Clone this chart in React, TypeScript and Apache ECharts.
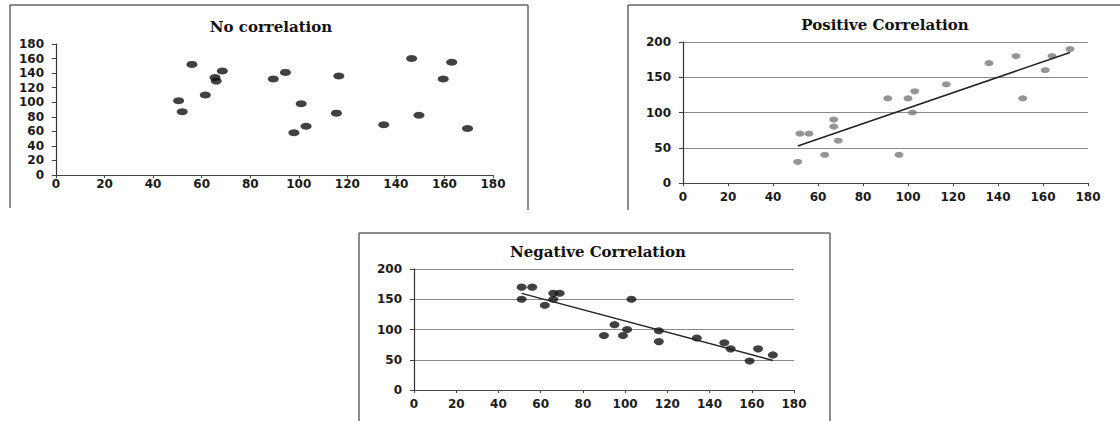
import React, { useEffect, useRef } from "react";
import * as echarts from "echarts";

const titles = ["No correlation", "Positive Correlation", "Negative Correlation"];
const xTicks = [0, 20, 40, 60, 80, 100, 120, 140, 160, 180];

const noCorrX = [50.5, 52, 56, 61.5, 65.5, 66, 68.5, 89.5, 94.5, 101, 98, 103, 116.5, 115.5, 135, 146.5, 149.5, 159.5, 163, 169.5];
const noCorrY = [102, 87, 152, 110, 134, 129, 143, 132, 141, 98, 58, 67, 136, 85, 69, 160, 82, 132, 155, 64];

const posX = [51, 52, 56, 63, 67, 67, 69, 91, 96, 100, 102, 103, 117, 136, 148, 151, 161, 164, 172];
const posY = [30, 70, 70, 40, 90, 80, 60, 120, 40, 120, 100, 130, 140, 170, 180, 120, 160, 180, 190];

const negX = [51, 51, 56, 62, 66, 66, 69, 90, 95, 99, 101, 103, 116, 116, 134, 147, 150, 159, 163, 170];
const negY = [150, 170, 170, 140, 150, 160, 160, 90, 108, 90, 100, 150, 98, 80, 86, 78, 68, 48, 68, 58];

function pairs(xs: number[], ys: number[]) {
  return xs.map((x, i) => [x, ys[i]]);
}

function trend(xs: number[], ys: number[]) {
  const n = xs.length;
  const mx = xs.reduce((a, b) => a + b, 0) / n;
  const my = ys.reduce((a, b) => a + b, 0) / n;
  let sxy = 0;
  let sxx = 0;
  for (let i = 0; i < n; i++) {
    sxy += (xs[i] - mx) * (ys[i] - my);
    sxx += (xs[i] - mx) * (xs[i] - mx);
  }
  const b = sxy / sxx;
  const a = my - b * mx;
  const x0 = Math.min(...xs);
  const x1 = Math.max(...xs);
  return [
    [x0, a + b * x0],
    [x1, a + b * x1],
  ];
}

const labelFont = {
  fontFamily: "DejaVu Sans",
  fontWeight: "bold" as const,
  fontSize: 12,
  color: "#1a1a1a",
};

function xAxis(gridIndex: number, margin: number) {
  return {
    type: "value",
    gridIndex,
    min: 0,
    max: 180,
    interval: 20,
    axisLine: { show: true, onZero: false, lineStyle: { color: "#444", width: 1.2 } },
    axisTick: { show: true, length: 3, lineStyle: { color: "#444" } },
    axisLabel: { ...labelFont, margin },
    splitLine: { show: false },
  };
}

function yAxis(gridIndex: number, max: number, interval: number, grid: boolean) {
  return {
    type: "value",
    gridIndex,
    min: 0,
    max,
    interval,
    axisLine: { show: true, onZero: false, lineStyle: { color: "#333", width: 1.2 } },
    axisTick: { show: true, length: 4, lineStyle: { color: "#444" } },
    axisLabel: { ...labelFont, margin: 12 },
    splitLine: { show: grid, lineStyle: { color: "#8a8a8a", width: 1.2 } },
  };
}

const borderStyle = { stroke: "#666", lineWidth: 1.5 };
function vline(x: number, y1: number, y2: number) {
  return { type: "line", shape: { x1: x, y1, x2: x, y2 }, style: borderStyle, silent: true };
}
function hline(y: number, x1: number, x2: number) {
  return { type: "line", shape: { x1, y1: y, x2, y2: y }, style: borderStyle, silent: true };
}

export default function App() {
  const ref = useRef<HTMLDivElement>(null);

  useEffect(() => {
    if (!ref.current) return;
    const chart = echarts.init(ref.current, null, { renderer: "svg" });
    const titleStyle = {
      fontFamily: "DejaVu Serif",
      fontWeight: "bold" as const,
      fontSize: 15,
      color: "#111",
    };
    chart.setOption({
      animation: false,
      backgroundColor: "#ffffff",
      title: [
        { text: titles[0], left: 266, top: 14, textAlign: "center", textStyle: titleStyle },
        { text: titles[1], left: 880, top: 12, textAlign: "center", textStyle: titleStyle },
        { text: titles[2], left: 593, top: 239, textAlign: "center", textStyle: titleStyle },
      ],
      grid: [
        { left: 56, top: 44, width: 437, height: 131 },
        { left: 683, top: 42, width: 405, height: 141 },
        { left: 414, top: 269, width: 380, height: 121 },
      ],
      xAxis: [xAxis(0, 3), xAxis(1, 8), xAxis(2, 8)].map((a, i) => ({
        ...a,
        axisLabel: {
          ...a.axisLabel,
          formatter: (v: number) => (xTicks.includes(v) ? String(v) : ""),
        },
      })),
      yAxis: [yAxis(0, 180, 20, false), yAxis(1, 200, 50, true), yAxis(2, 200, 50, true)],
      series: [
        {
          type: "scatter",
          xAxisIndex: 0,
          yAxisIndex: 0,
          data: pairs(noCorrX, noCorrY),
          symbol: "circle",
          symbolSize: [11, 7],
          itemStyle: { color: "#111" },
        },
        {
          type: "scatter",
          xAxisIndex: 1,
          yAxisIndex: 1,
          data: pairs(posX, posY),
          symbol: "circle",
          symbolSize: [9, 6],
          itemStyle: { color: "#7a7a7a" },
        },
        {
          type: "line",
          xAxisIndex: 1,
          yAxisIndex: 1,
          data: trend(posX, posY),
          showSymbol: false,
          lineStyle: { color: "#222", width: 1.5 },
        },
        {
          type: "scatter",
          xAxisIndex: 2,
          yAxisIndex: 2,
          data: pairs(negX, negY),
          symbol: "circle",
          symbolSize: [10, 7],
          itemStyle: { color: "#111" },
        },
        {
          type: "line",
          xAxisIndex: 2,
          yAxisIndex: 2,
          data: trend(negX, negY),
          showSymbol: false,
          lineStyle: { color: "#222", width: 1.5 },
        },
      ],
      graphic: [
        hline(5, 10, 528),
        vline(10, 5, 208),
        vline(528, 5, 210),
        hline(5, 628, 1120),
        vline(628, 5, 210),
        hline(233, 359, 830),
        vline(359, 233, 421),
        vline(830, 233, 421),
      ],
    });
    return () => chart.dispose();
  }, []);

  return (
    <div
      ref={ref}
      style={{ position: "absolute", left: 0, top: 0, width: 1120, height: 421 }}
    />
  );
}
